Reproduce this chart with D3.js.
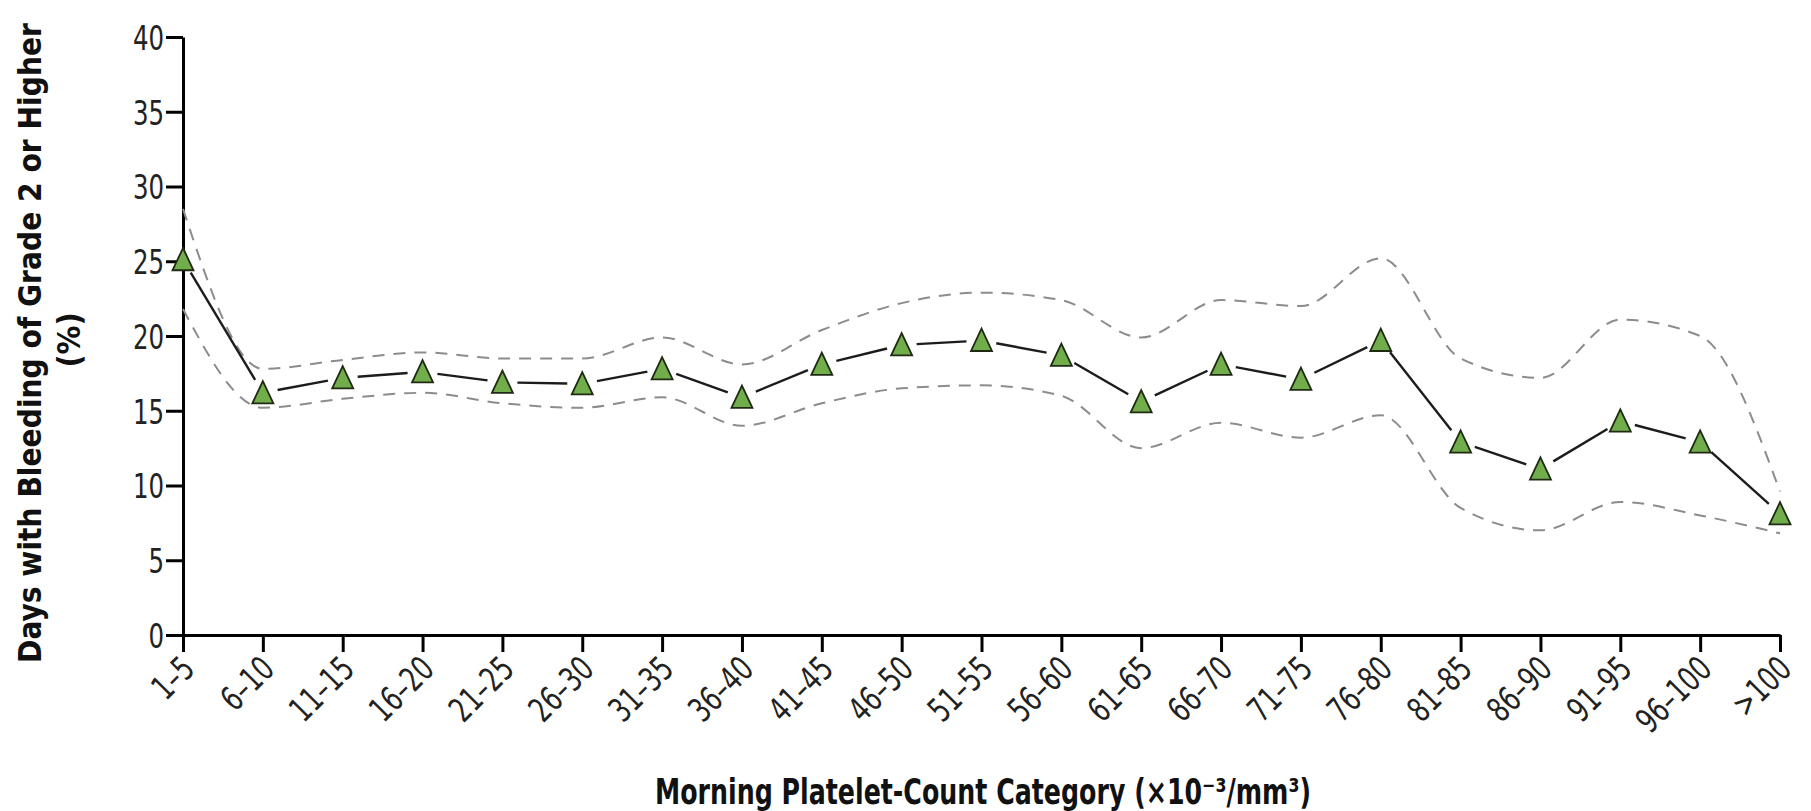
<!DOCTYPE html>
<html>
<head>
<meta charset="utf-8">
<script src="https://cdn.jsdelivr.net/npm/d3@7"></script>
<style>
  body { margin: 0; background: #fff; }
  svg { display: block; }
  .axis text { font-family: "DejaVu Sans Condensed", "Liberation Sans Narrow", sans-serif; font-size: 34px; fill: #222; }
  .axis path, .axis line { stroke: #000; stroke-width: 3; }
  .title { font-family: "DejaVu Sans Condensed", "Liberation Sans Narrow", sans-serif; font-weight: bold; fill: #111; }
</style>
</head>
<body>
<svg id="chart" width="1811" height="811"></svg>
<script>
// platelet-count categories (x10^-3/mm3)
var categories = ["1–5", "6–10", "11–15", "16–20", "21–25", "26–30", "31–35", "36–40", "41–45",
  "46–50", "51–55", "56–60", "61–65", "66–70", "71–75", "76–80", "81–85", "86–90",
  "91–95", "96–100", ">100"];

// % of days with grade 2+ bleeding, point estimate and 95% CI bounds
var meanPct  = [25.1, 16.2, 17.2, 17.6, 16.9, 16.8, 17.8, 15.9, 18.1, 19.4, 19.7,
  18.7, 15.6, 18.1, 17.1, 19.7, 12.9, 11.1, 14.3, 12.9, 8.1];
var upperPct = [28.5, 17.8, 18.4, 18.9, 18.5, 18.5, 19.9, 18.1, 20.4, 22.2, 22.9,
  22.4, 19.9, 22.4, 22.0, 25.2, 18.5, 17.2, 21.1, 20.0, 9.6];
var lowerPct = [21.8, 15.2, 15.8, 16.2, 15.5, 15.2, 15.9, 14.0, 15.5, 16.5, 16.7,
  16.0, 12.5, 14.2, 13.2, 14.7, 8.5, 7.0, 8.9, 8.0, 6.8];

var yTicks = [0, 5, 10, 15, 20, 25, 30, 35, 40];

var svg = d3.select("#chart"),
    MARGINS = { top: 37, right: 31, bottom: 176, left: 183 },
    WIDTH = 1811,
    HEIGHT = 811;

var xScale = d3.scalePoint()
    .domain(categories)
    .range([MARGINS.left, WIDTH - MARGINS.right])
    .padding(0);

var yScale = d3.scaleLinear()
    .domain([0, 40])
    .range([HEIGHT - MARGINS.bottom, MARGINS.top]);

var xAxis = d3.axisBottom(xScale).tickSize(17).tickSizeOuter(0);
var yAxis = d3.axisLeft(yScale).tickValues(yTicks).tickSize(17).tickSizeOuter(0);

svg.append("g")
    .attr("class", "y axis")
    .attr("transform", "translate(" + MARGINS.left + ",0)")
    .call(yAxis)
    .selectAll("text")
    .attr("x", 0)
    .attr("dy", "0.36em")
    .attr("transform", "translate(-19,0) scale(0.8,1)");

var gx = svg.append("g")
    .attr("class", "x axis")
    .attr("transform", "translate(0," + yScale(0) + ")")
    .call(xAxis);

gx.selectAll("text")
    .attr("x", 0).attr("y", 0).attr("dy", 0)
    .attr("transform", "translate(13,36) rotate(-45) scale(0.8,1)")
    .style("text-anchor", "end");

// dashed confidence bands
var ciLine = d3.line()
    .x(function (d, i) { return xScale(categories[i]); })
    .y(function (d) { return yScale(d); })
    .curve(d3.curveMonotoneX);

[upperPct, lowerPct].forEach(function (arr) {
  svg.append("path")
      .attr("d", ciLine(arr))
      .attr("fill", "none")
      .attr("stroke", "#8c8c8c")
      .attr("stroke-width", 2)
      .attr("stroke-dasharray", "12,9");
});

// main line, broken around each marker
var GAP = 15;
var pts = meanPct.map(function (v, i) { return [xScale(categories[i]), yScale(v)]; });
var segs = d3.pairs(pts).map(function (p) {
  var dx = p[1][0] - p[0][0], dy = p[1][1] - p[0][1];
  var len = Math.sqrt(dx * dx + dy * dy);
  var ux = dx / len, uy = dy / len;
  return [[p[0][0] + ux * GAP, p[0][1] + uy * GAP], [p[1][0] - ux * GAP, p[1][1] - uy * GAP]];
});

svg.selectAll(".seg")
    .data(segs)
    .enter().append("path")
    .attr("class", "seg")
    .attr("d", function (s) { return d3.line()(s); })
    .attr("stroke", "#1c1c1c")
    .attr("stroke-width", 2.4)
    .attr("fill", "none");

var triangle = {
  draw: function (ctx, size) {
    var r = Math.sqrt(size) / 2;
    ctx.moveTo(0, -r * 1.12);
    ctx.lineTo(r, r);
    ctx.lineTo(-r, r);
    ctx.closePath();
  }
};

svg.selectAll(".marker")
    .data(meanPct)
    .enter().append("path")
    .attr("class", "marker")
    .attr("transform", function (d, i) { return "translate(" + xScale(categories[i]) + "," + yScale(d) + ")"; })
    .attr("d", d3.symbol().type(triangle).size(21 * 21))
    .attr("fill", "#72ad4c")
    .attr("stroke", "#1e2a12")
    .attr("stroke-width", 1.8);

// axis titles
svg.append("text")
    .attr("class", "title")
    .attr("x", 983)
    .attr("y", 804)
    .attr("text-anchor", "middle")
    .attr("font-size", 36)
    .attr("textLength", 656)
    .attr("lengthAdjust", "spacingAndGlyphs")
    .text("Morning Platelet-Count Category (×10⁻³/mm³)");

svg.append("text")
    .attr("class", "title")
    .attr("transform", "translate(41,343) rotate(-90)")
    .attr("text-anchor", "middle")
    .attr("font-size", 32)
    .attr("textLength", 640)
    .attr("lengthAdjust", "spacingAndGlyphs")
    .text("Days with Bleeding of Grade 2 or Higher");

svg.append("text")
    .attr("class", "title")
    .attr("transform", "translate(80,340) rotate(-90)")
    .attr("text-anchor", "middle")
    .attr("font-size", 32)
    .text("(%)");
</script>
</body>
</html>
